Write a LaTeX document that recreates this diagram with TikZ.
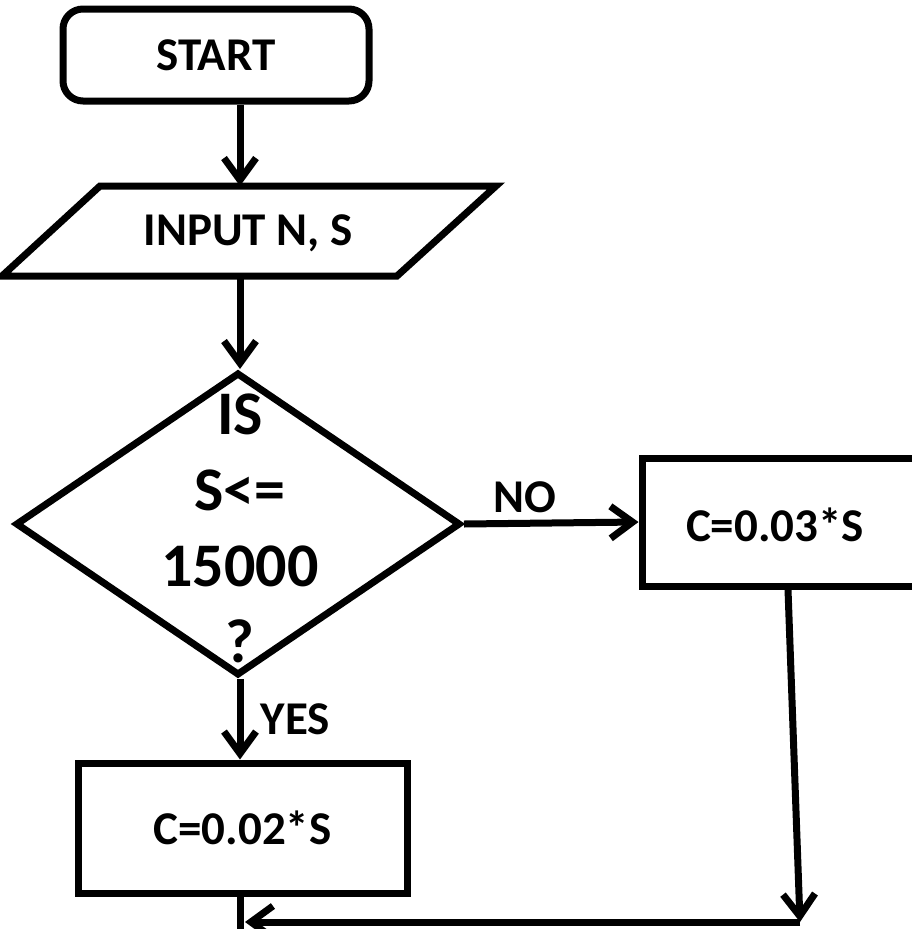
\documentclass[tikz,border=0pt]{standalone}
\usepackage{fontspec}
\setmainfont{Carlito}
\usetikzlibrary{arrows.meta,shapes.geometric}
\begin{document}
\begin{tikzpicture}[x=1pt,y=-1pt,
  line width=7pt,
  every node/.style={font=\bfseries\fontsize{47}{56}\selectfont},
  box/.style={draw,rectangle,inner sep=0pt},
  conn/.style={-{Straight Barb[length=22pt,width=32pt]}},
  bigtxt/.style={font=\bfseries\fontsize{62}{76}\selectfont,align=center}]
\useasboundingbox (0,0) rectangle (912,929);

% terminal
\node[box,rounded corners=20pt,minimum width=306pt,minimum height=92pt] (start) at (216,55) {START};

% input parallelogram
\coordinate (pin) at (240,186);
\coordinate (pout) at (240,276);
\draw[line join=miter] (100,186) -- (496,186) -- (397,276) -- (2,276) -- cycle;
\node (input) at (248,233) {INPUT N, S};

% decision
\node[draw,diamond,inner sep=0pt,minimum width=445pt,minimum height=303pt] (dec) at (238,524) {};
\node[bigtxt] (dtext) at (240,528) {IS\\S<=\\15000\\?};

% process boxes
\node[box,minimum width=278pt,minimum height=128pt] (rbox) at (781,522) {};
\node (rtext) at (775,525) {C=0.03*S};
\node[box,minimum width=329pt,minimum height=130pt] (lbox) at (242.5,828) {C=0.02*S};

% connectors
\draw[conn] ([xshift=24pt]start.south) -- (pin);
\draw[conn] (pout) -- ([xshift=2pt]dec.north);
\draw[conn] (dec.east) -- node[above=4pt,pos=0.35] (no) {NO} (rbox.west);
\draw[conn] ([xshift=2pt]dec.south) -- node[right=14pt,pos=0.5] (yes) {YES} ([xshift=2pt]dec.south |- lbox.north);

\coordinate (join) at (800,922);
\coordinate (merge) at (245,922);
\draw[conn] ([xshift=7pt]rbox.south) -- (join);
\draw[conn] (join) -- (merge);
\draw ([xshift=-2.5pt]lbox.south) -- ++(0,45);
\end{tikzpicture}
\end{document}
